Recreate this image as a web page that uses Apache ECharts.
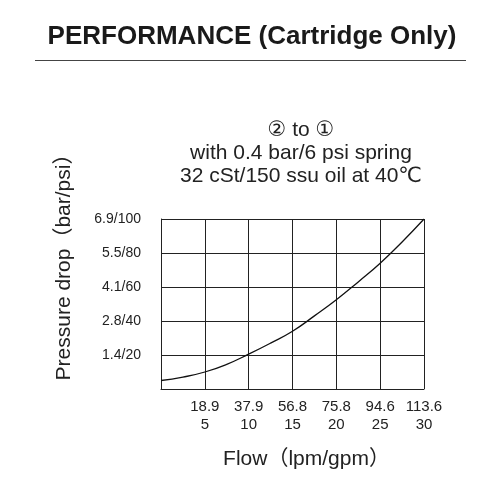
<!DOCTYPE html>
<html>
<head>
<meta charset="utf-8">
<style>
  html, body { margin: 0; padding: 0; background: #fff; }
  #chart { width: 502px; height: 484px; }
</style>
<script src="https://cdn.jsdelivr.net/npm/echarts@6/dist/echarts.min.js"></script>
</head>
<body>
<div id="chart"></div>
<script>
// flow in gpm, pressure drop in psi
var flowGpm = [0, 2.5, 5, 7.5, 10, 12.5, 15, 17.5, 20, 22.5, 25, 27.5, 30]
var dropPsi = [5, 7, 10, 14.5, 20.5, 27, 34, 43, 52.5, 63, 74, 86.5, 100]

// tick labels (lpm over gpm, bar/psi)
var xLpm = { 5: '18.9', 10: '37.9', 15: '56.8', 20: '75.8', 25: '94.6', 30: '113.6' }
var yBar = { 20: '1.4', 40: '2.8', 60: '4.1', 80: '5.5', 100: '6.9' }

var font = '"Liberation Sans", "DejaVu Sans", "Noto Sans CJK SC", sans-serif'
var ink = '#222'

var chart = echarts.init(document.getElementById('chart'))

chart.setOption({
  backgroundColor: '#fff',
  animation: false,
  title: [
    {
      text: 'PERFORMANCE (Cartridge Only)',
      left: 247,
      top: 19,
      textAlign: 'center',
      textStyle: { fontFamily: font, fontSize: 26, fontWeight: 'bold', color: '#1a1a1a' }
    },
    {
      text: '② to ①\nwith 0.4 bar/6 psi spring\n32 cSt/150 ssu oil at 40℃',
      left: 296,
      top: 114,
      textAlign: 'center',
      textStyle: { fontFamily: font, fontSize: 21, fontWeight: 'normal', color: ink, lineHeight: 23, align: 'center' }
    }
  ],
  graphic: [
    {
      type: 'line',
      shape: { x1: 35, y1: 60.5, x2: 466, y2: 60.5 },
      style: { stroke: '#444', lineWidth: 1.2 }
    }
  ],
  grid: { left: 161, right: 78, top: 219, bottom: 95 },
  xAxis: {
    type: 'value',
    min: 0,
    max: 30,
    interval: 5,
    name: 'Flow（lpm/gpm）',
    nameLocation: 'middle',
    nameGap: 60,
    nameTextStyle: { fontFamily: font, fontSize: 21, color: ink, padding: [0, 0, 0, 28] },
    axisLine: { show: true, lineStyle: { color: ink, width: 1 } },
    axisTick: { show: false },
    splitLine: { show: true, lineStyle: { color: ink, width: 1 } },
    axisLabel: {
      margin: 9,
      fontFamily: font,
      fontSize: 15,
      color: ink,
      lineHeight: 18,
      formatter: function (v) { return xLpm[v] ? xLpm[v] + '\n' + v : '' }
    }
  },
  yAxis: {
    type: 'value',
    min: 0,
    max: 100,
    interval: 20,
    name: 'Pressure drop（bar/psi）',
    nameLocation: 'middle',
    nameGap: 86,
    nameTextStyle: { fontFamily: font, fontSize: 21, color: ink, padding: [0, 0, 0, 84] },
    axisLine: { show: true, lineStyle: { color: ink, width: 1 } },
    axisTick: { show: false },
    splitLine: { show: true, lineStyle: { color: ink, width: 1 } },
    axisLabel: {
      margin: 20,
      fontFamily: font,
      fontSize: 14,
      color: ink,
      formatter: function (v) { return yBar[v] ? yBar[v] + '/' + v : '' }
    }
  },
  series: [
    {
      type: 'line',
      data: flowGpm.map(function (x, i) { return [x, dropPsi[i]] }),
      smooth: true,
      symbol: 'none',
      lineStyle: { color: '#111', width: 1.3 }
    }
  ]
})
</script>
</body>
</html>
